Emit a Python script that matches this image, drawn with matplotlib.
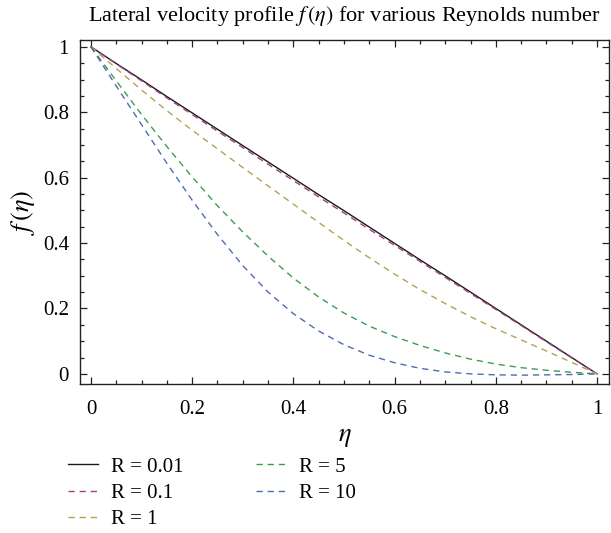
import matplotlib
matplotlib.use('Agg')
import matplotlib.pyplot as plt
from matplotlib.ticker import MultipleLocator, FuncFormatter

# ---------------- data ----------------
eta = [0.0, 0.05, 0.1, 0.15, 0.2, 0.25, 0.3, 0.35, 0.4, 0.45, 0.5,
       0.55, 0.6, 0.65, 0.7, 0.75, 0.8, 0.85, 0.9, 0.95, 1.0]

f_R001 = [1.0, 0.949, 0.899, 0.848, 0.798, 0.748, 0.698, 0.648, 0.598, 0.548, 0.499,
          0.449, 0.399, 0.349, 0.300, 0.250, 0.200, 0.150, 0.100, 0.050, 0.0]
f_R01 = [1.0, 0.948, 0.896, 0.844, 0.793, 0.742, 0.692, 0.641, 0.591, 0.541, 0.492,
         0.442, 0.393, 0.344, 0.295, 0.246, 0.197, 0.148, 0.098, 0.049, 0.0]
f_R1 = [1.0, 0.934, 0.868, 0.805, 0.745, 0.688, 0.631, 0.575, 0.519, 0.463, 0.408,
        0.355, 0.305, 0.258, 0.215, 0.175, 0.138, 0.104, 0.070, 0.035, 0.0]
f_R5 = [1.0, 0.896, 0.793, 0.695, 0.602, 0.514, 0.434, 0.360, 0.293, 0.235, 0.186,
        0.146, 0.114, 0.087, 0.064, 0.045, 0.030, 0.019, 0.011, 0.005, 0.0]
f_R10 = [1.0, 0.880, 0.762, 0.644, 0.531, 0.426, 0.331, 0.250, 0.184, 0.131, 0.089,
         0.057, 0.034, 0.017, 0.006, 0.000, -0.003, -0.004, -0.003, -0.002, 0.0]

labels = ['R = 0.01', 'R = 0.1', 'R = 1', 'R = 5', 'R = 10']
series = [f_R001, f_R01, f_R1, f_R5, f_R10]
colors = ['#1a1a1a', '#a0427e', '#b3a250', '#3a9e52', '#4a6db5']
styles = ['-', '--', '--', '--', '--']

x_ticks = [0, 0.2, 0.4, 0.6, 0.8, 1]
y_ticks = [0, 0.2, 0.4, 0.6, 0.8, 1]


def main():
    plt.rcParams['font.family'] = ['Liberation Serif', 'DejaVu Serif']
    plt.rcParams['mathtext.fontset'] = 'stix'

    W, H = 611, 533
    fig = plt.figure(figsize=(W / 100, H / 100), dpi=100)
    # frame: left 80, right 609, top 40, bottom 384 (pixels)
    ax = fig.add_axes([80 / W, 1 - 384 / H, (609 - 80) / W, (384 - 40) / H])

    for ys, c, ls, lab in zip(series, colors, styles, labels):
        kw = dict(color=c, linestyle=ls, linewidth=1.0, label=lab)
        if ls == '--':
            kw['dashes'] = (4.5, 3.5)
        ax.plot(eta, ys, **kw)

    ax.set_xlim(-0.0217, 1.0237)
    ax.set_ylim(-0.031, 1.021)
    ax.set_xticks(x_ticks)
    ax.set_yticks(y_ticks)
    ax.xaxis.set_minor_locator(MultipleLocator(0.05))
    ax.yaxis.set_minor_locator(MultipleLocator(0.05))
    fmt = FuncFormatter(lambda v, p: '%g' % v)
    ax.xaxis.set_major_formatter(fmt)
    ax.yaxis.set_major_formatter(fmt)
    ax.tick_params(which='both', direction='in', top=True, right=True,
                   labelsize=15, width=0.9, color='#222222')
    ax.tick_params(which='major', length=5)
    ax.tick_params(which='minor', length=3)
    ax.tick_params(axis='x', which='major', pad=11.5)
    ax.tick_params(axis='y', which='major', pad=8)
    for sp in ax.spines.values():
        sp.set_linewidth(1.0)
        sp.set_color('#222222')

    ax.set_xlabel(r'$\eta$', fontsize=19, labelpad=6)
    ax.set_ylabel(r'$f\,(\eta)$', fontsize=19, labelpad=4)
    ax.set_title(r'Lateral velocity profile $f\,(\eta)$ for various Reynolds number',
                 fontsize=16, pad=13.5)

    fig.legend(loc='upper left', bbox_to_anchor=(68 / W, 1 - 457 / H),
               ncol=2, frameon=False, fontsize=15, handlelength=1.45,
               handletextpad=0.6, columnspacing=3.5, labelspacing=0.33,
               borderpad=0, borderaxespad=0)

    fig.savefig('out.png', dpi=100)


if __name__ == '__main__':
    main()
